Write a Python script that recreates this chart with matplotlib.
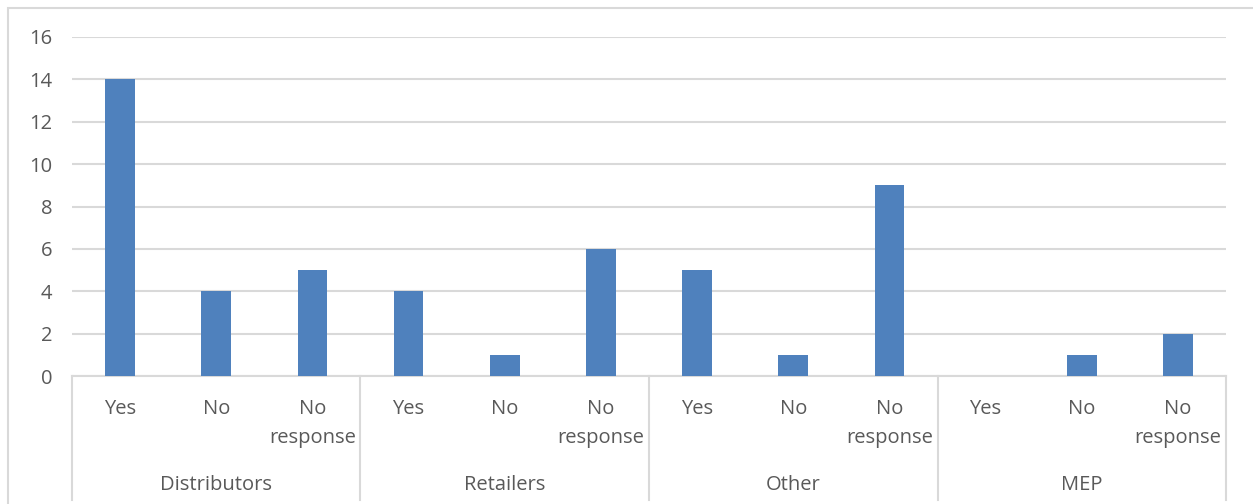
import matplotlib.pyplot as plt
from matplotlib.patches import Rectangle

groups = ['Distributors', 'Retailers', 'Other', 'MEP']
answers = ['Yes', 'No', 'No\nresponse']
values = [14, 4, 5,
          4, 1, 6,
          5, 1, 9,
          0, 1, 2]

bar_color = '#4F81BD'
text_color = '#595959'
line_color = '#D9D9D9'

plt.rcParams['font.family'] = ['Open Sans', 'DejaVu Sans']

fig = plt.figure(figsize=(12.53, 5.04), dpi=100)
ax = fig.add_axes([72 / 1253, 1 - 376 / 504, (1226 - 72) / 1253, (376 - 37) / 504])

# рамка диаграммы (как в Excel)
fig.patches.append(Rectangle((8 / 1253, -0.1), 1.1, 1 - 8 / 504 + 0.1,
                             transform=fig.transFigure, fill=False,
                             edgecolor=line_color, linewidth=1.5))

x = list(range(len(values)))
ax.bar(x, values, width=0.31, color=bar_color, zorder=3)

ax.set_xlim(-0.5, len(values) - 0.5)
ax.set_ylim(0, 16)
ax.set_yticks(range(0, 17, 2))
ax.tick_params(axis='y', length=0, labelsize=14.5, labelcolor=text_color, pad=14)
ax.set_xticks([])
ax.grid(axis='y', color=line_color, linewidth=1.5, zorder=0)
for side in ['top', 'right', 'left']:
    ax.spines[side].set_visible(False)
ax.spines['bottom'].set_color(line_color)
ax.spines['bottom'].set_linewidth(1.5)

trans = ax.get_xaxis_transform()

# подписи категорий второго уровня
for i in x:
    ax.text(i, -0.067, answers[i % 3], transform=trans, ha='center', va='top',
            fontsize=14.5, color=text_color, linespacing=1.65)

# подписи групп и разделители
for g, name in enumerate(groups):
    ax.text(g * 3 + 1, -0.323, name, transform=trans, ha='center', va='center',
            fontsize=14.5, color=text_color)
for g in range(len(groups) + 1):
    ax.plot([g * 3 - 0.5, g * 3 - 0.5], [0, -0.366], transform=trans,
            color=line_color, linewidth=1.5, clip_on=False)

fig.savefig('out.png', dpi=100)
